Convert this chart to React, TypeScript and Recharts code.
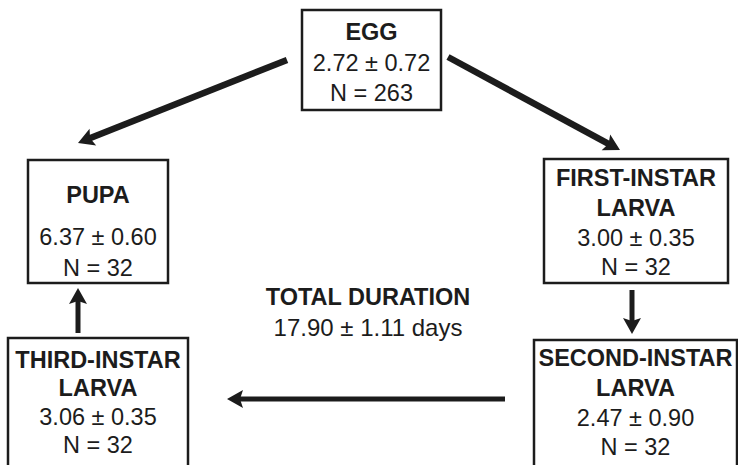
import React from 'react';
import { ScatterChart, Scatter, XAxis, YAxis, ReferenceLine } from 'recharts';

// development time (days) per stage, mean ± SD
const stageNames = ['EGG', 'FIRST-INSTAR\nLARVA', 'SECOND-INSTAR\nLARVA', 'THIRD-INSTAR\nLARVA', 'PUPA'];
const meanDays = [2.72, 3.0, 2.47, 3.06, 6.37];
const sdDays = [0.72, 0.35, 0.9, 0.35, 0.6];
const sampleN = [263, 32, 32, 32, 32];
const totalMean = 17.9;
const totalSd = 1.11;

// diagram layout, in pixel units of the 738x465 canvas
const W = 738;
const H = 465;
const boxLayout = [
  { x: 371.5, y: 60, w: 139, h: 100, lines: [22, 53, 83] },
  { x: 636, y: 221, w: 184, h: 124, lines: [19, 49, 79, 108] },
  { x: 635.5, y: 405, w: 203, h: 130, lines: [18, 48, 78, 107] },
  { x: 98, y: 403, w: 180, h: 130, lines: [22, 50, 79, 107] },
  { x: 98, y: 221.5, w: 140, h: 123, lines: [35, 77, 108] },
];
const arrowLayout = [
  { x1: 287, y1: 60, x2: 78, y2: 143, w: 6.5 },
  { x1: 448, y1: 57, x2: 620, y2: 150, w: 6.5 },
  { x1: 632, y1: 290, x2: 632, y2: 334, w: 5 },
  { x1: 505, y1: 399, x2: 227, y2: 399, w: 5 },
  { x1: 78, y1: 333, x2: 78, y2: 288, w: 5 },
];
const totalPos = { x: 368, y: 297 };

const font = '"Liberation Sans", Arial, Helvetica, sans-serif';
const ink = '#1c1c1c';

const stagePoints = stageNames.map((name, i) => ({
  i,
  name,
  mean: meanDays[i],
  sd: sdDays[i],
  n: sampleN[i],
  x: boxLayout[i].x,
  y: boxLayout[i].y,
}));

const totalPoint = [{ x: totalPos.x, y: totalPos.y, mean: totalMean, sd: totalSd }];

const StageBox = (props: any) => {
  const { cx, cy, payload } = props;
  const b = boxLayout[payload.i];
  const left = cx - b.w / 2;
  const top = cy - b.h / 2;
  const titles = payload.name.split('\n');
  const texts = [
    ...titles.map((t: string) => ({ t, bold: true })),
    { t: `${payload.mean.toFixed(2)} \u00b1 ${payload.sd.toFixed(2)}`, bold: false },
    { t: `N = ${payload.n}`, bold: false },
  ];
  return (
    <g>
      <rect x={left} y={top} width={b.w} height={b.h} fill="#fff" stroke={ink} strokeWidth={2.5} />
      {texts.map((l, k) => (
        <text
          key={k}
          x={cx}
          y={top + b.lines[k]}
          textAnchor="middle"
          dominantBaseline="central"
          fontFamily={font}
          fontSize={23.5}
          fontWeight={l.bold ? 700 : 400}
          fill={ink}
        >
          {l.t}
        </text>
      ))}
    </g>
  );
};

const TotalLabel = (props: any) => {
  const { cx, cy, payload } = props;
  return (
    <g>
      <text x={cx} y={cy} textAnchor="middle" dominantBaseline="central" fontFamily={font} fontSize={23.5} fontWeight={700} fill={ink}>
        TOTAL DURATION
      </text>
      <text x={cx} y={cy + 30} textAnchor="middle" dominantBaseline="central" fontFamily={font} fontSize={24} fill={ink}>
        {`${payload.mean.toFixed(2)} \u00b1 ${payload.sd.toFixed(2)} days`}
      </text>
    </g>
  );
};

const arrowShape = (width: number) => (props: any) => {
  const { x1, y1, x2, y2 } = props;
  const dx = x2 - x1;
  const dy = y2 - y1;
  const len = Math.sqrt(dx * dx + dy * dy) || 1;
  const ux = dx / len;
  const uy = dy / len;
  const head = 16;
  const half = 9;
  const bx = x2 - ux * head;
  const by = y2 - uy * head;
  const pts = [
    `${x2},${y2}`,
    `${bx - uy * half},${by + ux * half}`,
    `${bx + ux * 3},${by + uy * 3}`,
    `${bx + uy * half},${by - ux * half}`,
  ].join(' ');
  return (
    <g>
      <line x1={x1} y1={y1} x2={bx + ux * 4} y2={by + uy * 4} stroke={ink} strokeWidth={width} />
      <polygon points={pts} fill={ink} />
    </g>
  );
};

export default function App() {
  return (
    <div style={{ position: 'absolute', left: 0, top: 0, width: W, height: H, background: '#fff' }}>
      <ScatterChart width={W} height={H} margin={{ top: 0, right: 0, bottom: 0, left: 0 }}>
        <XAxis type="number" dataKey="x" domain={[0, W]} hide allowDataOverflow />
        <YAxis type="number" dataKey="y" domain={[0, H]} reversed hide allowDataOverflow />
        {arrowLayout.map((a, k) => (
          <ReferenceLine
            key={k}
            segment={[
              { x: a.x1, y: a.y1 },
              { x: a.x2, y: a.y2 },
            ]}
            ifOverflow="visible"
            shape={arrowShape(a.w)}
          />
        ))}
        <Scatter data={stagePoints} shape={StageBox} isAnimationActive={false} />
        <Scatter data={totalPoint} shape={TotalLabel} isAnimationActive={false} />
      </ScatterChart>
    </div>
  );
}
